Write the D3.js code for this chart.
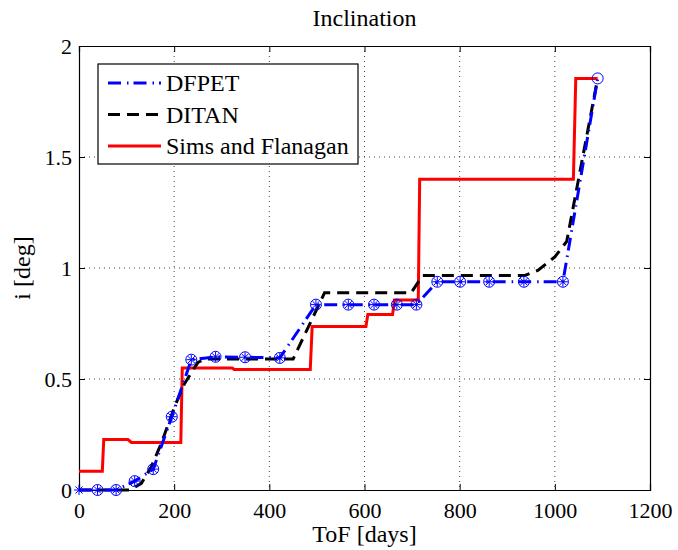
<!DOCTYPE html>
<html>
<head>
<meta charset="utf-8">
<script src="https://cdn.jsdelivr.net/npm/d3@7"></script>
<style>
  html, body { margin: 0; padding: 0; background: #fff; }
  svg { display: block; }
  svg text { font-family: "Liberation Serif", "Tinos", "Times New Roman", "Nimbus Roman", "DejaVu Serif", serif; }
</style>
</head>
<body>
<svg id="chart" width="678" height="550"></svg>
<script>
// Inclination history (deg) vs time of flight (days) for three solvers
const dfpetTof = [0, 39, 78, 117, 156, 195, 236, 287, 349, 422, 498, 566, 620, 668, 709, 753, 801, 862, 935, 1017, 1090];
const dfpetInc = [0, 0, 0, 0.04, 0.094, 0.33, 0.587, 0.6, 0.598, 0.595, 0.835, 0.835, 0.835, 0.835, 0.835, 0.938, 0.938, 0.938, 0.938, 0.938, 1.854];

const ditanTof = [0, 107, 131, 152, 173, 201, 222, 250, 265, 450, 516, 698, 722, 936, 965, 1000, 1025, 1090];
const ditanInc = [0, 0, 0.03, 0.105, 0.21, 0.376, 0.48, 0.575, 0.59, 0.59, 0.888, 0.888, 0.966, 0.966, 0.99, 1.05, 1.12, 1.854];

const simsTof = [0, 49, 52, 103, 110, 214, 217, 322, 326, 486, 490, 603, 607, 659, 663, 713, 716, 1039, 1044, 1090];
const simsInc = [0.085, 0.085, 0.227, 0.227, 0.214, 0.214, 0.55, 0.55, 0.543, 0.543, 0.736, 0.736, 0.79, 0.79, 0.856, 0.856, 1.4, 1.4, 1.854, 1.854];

const xTicks = [0, 200, 400, 600, 800, 1000, 1200];
const yTicks = [0, 0.5, 1, 1.5, 2];
const seriesNames = ["DFPET", "DITAN", "Sims and Flanagan"];

const FONT = "'Liberation Serif', 'Tinos', 'Times New Roman', 'Nimbus Roman', 'DejaVu Serif', serif";
const W = 678, H = 550;
const margin = { left: 79, right: 28, top: 46, bottom: 60 };
const pw = W - margin.left - margin.right;
const ph = H - margin.top - margin.bottom;

const svg = d3.select("#chart");
const g = svg.append("g").attr("transform", `translate(${margin.left},${margin.top})`);

const x = d3.scaleLinear().domain([0, 1200]).range([0, pw]);
const y = d3.scaleLinear().domain([0, 2]).range([ph, 0]);

// dotted grid
g.append("g").selectAll("line").data(xTicks.slice(1, -1)).join("line")
  .attr("x1", d => x(d)).attr("x2", d => x(d)).attr("y1", 0).attr("y2", ph)
  .attr("stroke", "#444").attr("stroke-width", 1).attr("stroke-dasharray", "1,4");
g.append("g").selectAll("line").data(yTicks.slice(1, -1)).join("line")
  .attr("y1", d => y(d)).attr("y2", d => y(d)).attr("x1", 0).attr("x2", pw)
  .attr("stroke", "#444").attr("stroke-width", 1).attr("stroke-dasharray", "1,4");

// axes with inward ticks on all four sides
const tickLen = 6;
const axB = g.append("g").attr("transform", `translate(0,${ph})`)
  .call(d3.axisBottom(x).tickValues(xTicks).tickSize(-tickLen).tickPadding(12).tickFormat(d3.format("d")));
const axT = g.append("g")
  .call(d3.axisTop(x).tickValues(xTicks).tickSize(-tickLen).tickFormat(""));
const axL = g.append("g")
  .call(d3.axisLeft(y).tickValues(yTicks).tickSize(-tickLen).tickPadding(7).tickFormat(d => d3.format("")(d)));
const axR = g.append("g").attr("transform", `translate(${pw},0)`)
  .call(d3.axisRight(y).tickValues(yTicks).tickSize(-tickLen).tickFormat(""));
[axB, axT, axL, axR].forEach(a => {
  a.attr("font-family", FONT);
  a.select(".domain").attr("stroke", "#000").attr("stroke-width", 1.2);
  a.selectAll(".tick line").attr("stroke", "#000");
  a.selectAll("text").attr("fill", "#000").attr("font-size", 22).attr("font-family", FONT);
});
axB.selectAll("text").attr("dy", "0.71em");
axL.selectAll("text").attr("dy", "0.35em");

const line = d3.line().x(d => x(d[0])).y(d => y(d[1]));
const zip = (a, b) => a.map((v, i) => [v, b[i]]);

// Sims and Flanagan
g.append("path").datum(zip(simsTof, simsInc)).attr("d", line)
  .attr("fill", "none").attr("stroke", "#ff0000").attr("stroke-width", 3)
  .attr("stroke-linejoin", "miter");

// DITAN
g.append("path").datum(zip(ditanTof, ditanInc)).attr("d", line)
  .attr("fill", "none").attr("stroke", "#000").attr("stroke-width", 3)
  .attr("stroke-dasharray", "12,7");

// DFPET
const dfpet = zip(dfpetTof, dfpetInc);
g.append("path").datum(dfpet).attr("d", line)
  .attr("fill", "none").attr("stroke", "#0000ff").attr("stroke-width", 3)
  .attr("stroke-dasharray", "13,6,1.5,5");

// DFPET markers: circles on every node after the first, asterisks on every node before the last
const mk = g.append("g").attr("stroke", "#0000ff").attr("fill", "none").attr("stroke-width", 1);
mk.selectAll("circle").data(dfpet.slice(1)).join("circle")
  .attr("cx", d => x(d[0])).attr("cy", d => y(d[1])).attr("r", 5.5);
const star = mk.selectAll("g.star").data(dfpet.slice(0, -1)).join("g")
  .attr("class", "star")
  .attr("transform", d => `translate(${x(d[0])},${y(d[1])})`);
[0, 45, 90, 135].forEach(a => {
  const r = 5, t = a * Math.PI / 180;
  star.append("line")
    .attr("x1", -r * Math.cos(t)).attr("y1", -r * Math.sin(t))
    .attr("x2", r * Math.cos(t)).attr("y2", r * Math.sin(t));
});

// legend
const lg = g.append("g").attr("transform", "translate(19,18)");
lg.append("rect").attr("width", 260).attr("height", 100)
  .attr("fill", "#fff").attr("stroke", "#000").attr("stroke-width", 1.2);
const styles = [
  { c: "#0000ff", dash: "13,6,1.5,5" },
  { c: "#000", dash: "12,7" },
  { c: "#ff0000", dash: null }
];
seriesNames.forEach((name, i) => {
  const yy = 19 + i * 31.5;
  lg.append("line").attr("x1", 10).attr("x2", 63).attr("y1", yy).attr("y2", yy)
    .attr("stroke", styles[i].c).attr("stroke-width", 3)
    .attr("stroke-dasharray", styles[i].dash);
  lg.append("text").attr("x", 68).attr("y", yy).attr("dy", "0.35em")
    .attr("font-family", FONT).attr("font-size", 24).attr("fill", "#000").text(name);
});

// titles
svg.append("text").attr("x", margin.left + pw / 2).attr("y", 26)
  .attr("text-anchor", "middle").attr("font-family", FONT).attr("font-size", 24).text("Inclination");
svg.append("text").attr("x", margin.left + pw / 2).attr("y", 542)
  .attr("text-anchor", "middle").attr("font-family", FONT).attr("font-size", 24).text("ToF [days]");
svg.append("text").attr("transform", `translate(30,${margin.top + ph / 2}) rotate(-90)`)
  .attr("text-anchor", "middle").attr("font-family", FONT).attr("font-size", 24).text("i [deg]");
</script>
</body>
</html>
